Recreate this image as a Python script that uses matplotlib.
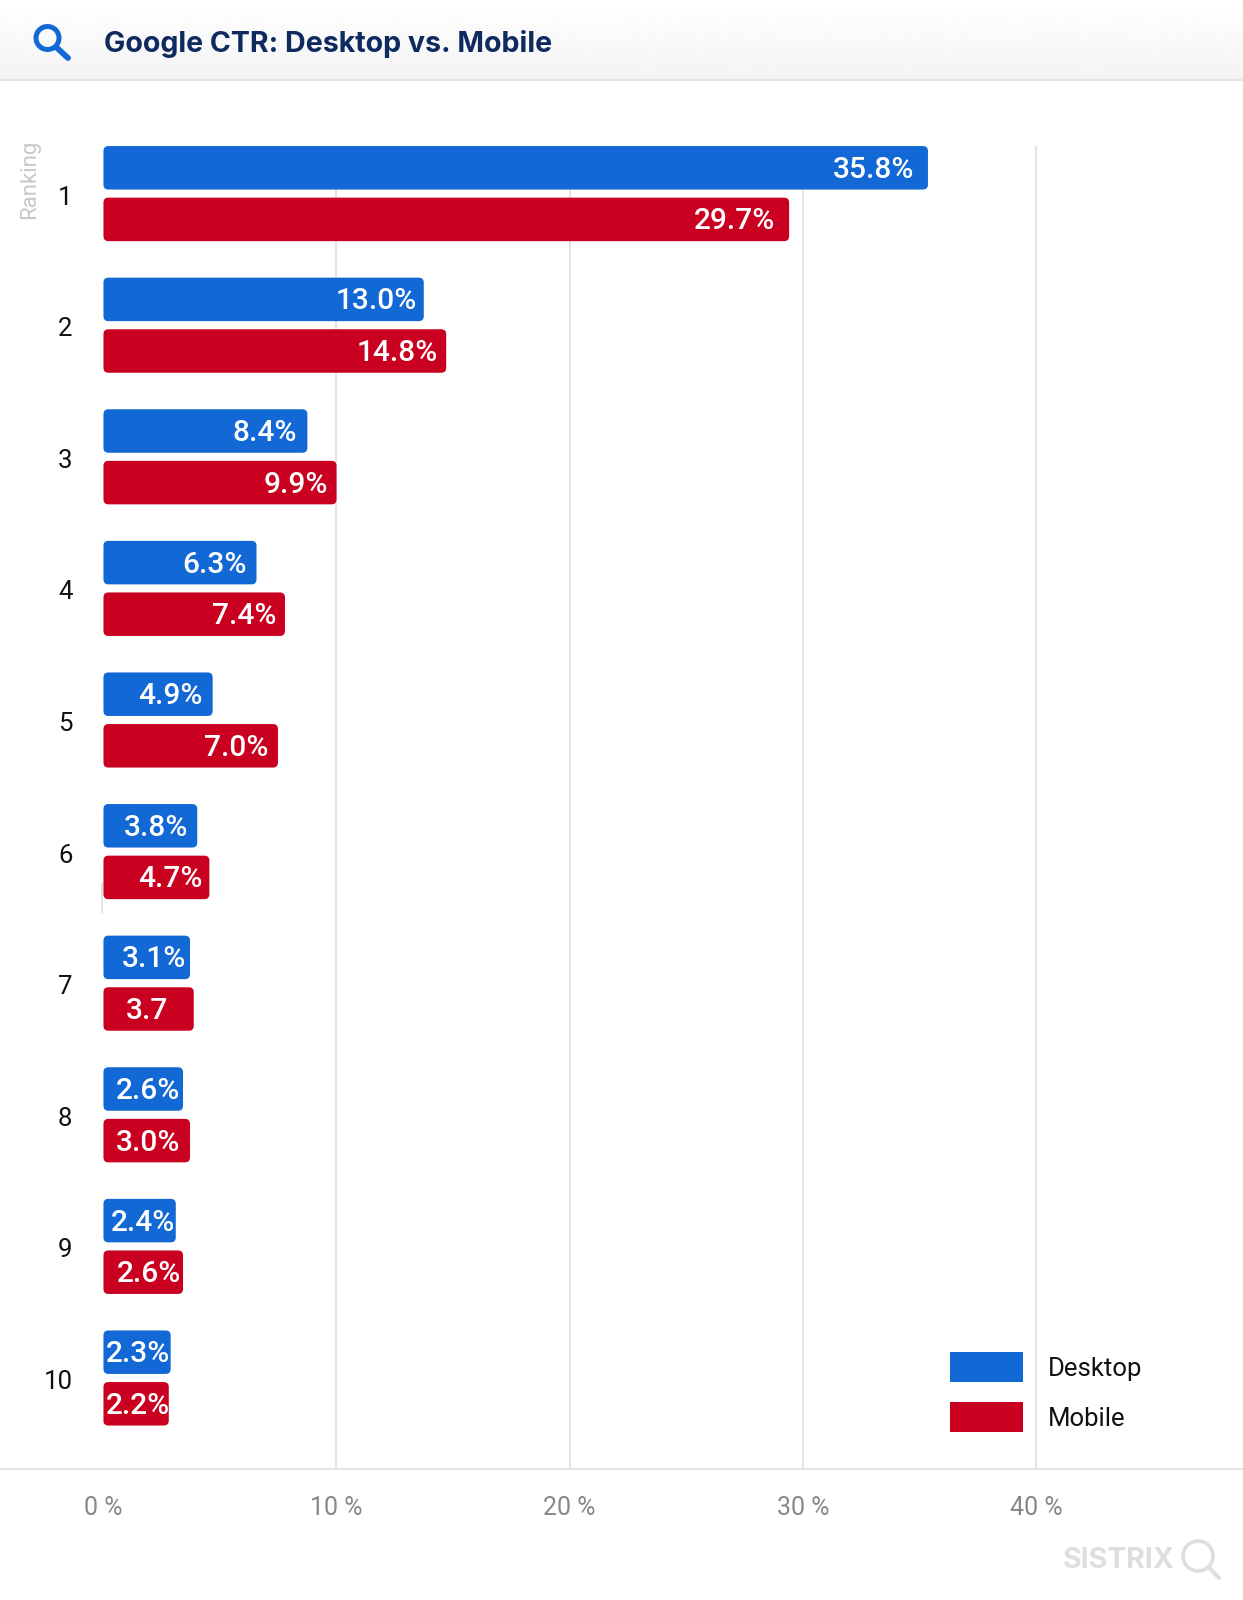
import numpy as np
import matplotlib
matplotlib.use("Agg")
import matplotlib.pyplot as plt
from matplotlib.patches import FancyBboxPatch, Circle, Patch
from matplotlib.lines import Line2D
from matplotlib.transforms import ScaledTranslation

# ---- data -------------------------------------------------------------
ranks = [1, 2, 3, 4, 5, 6, 7, 8, 9, 10]
# bar lengths (the drawn boxes)
desktop_bars = [35.36, 13.75, 8.76, 6.58, 4.70, 4.04, 3.73, 3.43, 3.12, 2.90]
mobile_bars = [29.41, 14.71, 10.01, 7.80, 7.50, 4.56, 3.89, 3.73, 3.43, 2.82]
# labels printed on the bars
desktop_labels = ["35.8%", "13.0%", "8.4%", "6.3%", "4.9%", "3.8%", "3.1%", "2.6%", "2.4%", "2.3%"]
mobile_labels = ["29.7%", "14.8%", "9.9%", "7.4%", "7.0%", "4.7%", "3.7", "3.0%", "2.6%", "2.2%"]
x_ticks = [0, 10, 20, 30, 40]
x_tick_labels = ["0 %", "10 %", "20 %", "30 %", "40 %"]
series_names = ["Desktop", "Mobile"]
title = "Google CTR: Desktop vs. Mobile"

# ---- style ------------------------------------------------------------
BLUE = "#1268d4"
RED = "#c90020"
GRID = "#e3e3e3"
W, H = 1243, 1600
desktop_insets = [14, 7, 10, 10, 10, 9, 4, 3, 1, 1]
mobile_insets = [14, 8, 9, 9, 10, 7, 26, 10, 2, -1]
plt.rcParams["font.family"] = ["Roboto", "DejaVu Sans"]

fig = plt.figure(figsize=(W / 100, H / 100), dpi=100, facecolor="white")

# chrome layer in pixel coordinates
bg = fig.add_axes([0, 0, 1, 1], zorder=0)
bg.set_xlim(0, W); bg.set_ylim(H, 0); bg.axis("off")
grad = np.linspace(1.0, 0.955, 64).reshape(-1, 1)
bg.imshow(grad, extent=(0, W, 79, 0), cmap="gray", vmin=0, vmax=1, aspect="auto", zorder=1)
bg.set_xlim(0, W); bg.set_ylim(H, 0)
bg.add_line(Line2D([0, W], [80, 80], color="#e4e4e4", lw=1.6, zorder=2))
bg.add_line(Line2D([0, W], [1468.5, 1468.5], color=GRID, lw=1.4, zorder=2))
# header magnifier
bg.add_patch(Circle((47.5, 38), 11.5, fill=False, ec=BLUE, lw=3.6, zorder=3))
bg.add_line(Line2D([56, 68], [47, 58], color=BLUE, lw=4.2, solid_capstyle="round", zorder=3))
bg.text(104, 44, title, fontsize=20.6, fontweight="bold", family=["Inter", "DejaVu Sans"],
        color="#0e2a5e", va="center", ha="left", zorder=3)
# watermark
bg.text(1063, 1560, "SISTRIX", fontsize=20.5, fontweight="bold", family=["Inter", "DejaVu Sans"],
        color="#dedede", va="center", ha="left", zorder=3)
bg.add_patch(Circle((1198, 1556), 15, fill=False, ec="#dedede", lw=2.6, zorder=3))
bg.add_line(Line2D([1208.5, 1219], [1567, 1578], color="#dedede", lw=3.0, solid_capstyle="round", zorder=3))

# chart
left, top, bottom = 103.0, 146.0, 1468.5
ax = fig.add_axes([left / W, 1 - bottom / H, (W - left) / W, (bottom - top) / H], zorder=1)
ax.patch.set_alpha(0)
px_per_x = 23.33
px_per_row = 131.6
ax.set_xlim(0, (W - left) / px_per_x)
ax.set_ylim(1 + (bottom - 193.6) / px_per_row, 1 + (top - 193.6) / px_per_row)
for s in ax.spines.values():
    s.set_visible(False)
ax.set_axisbelow(True)
ax.set_xticks(x_ticks)
ax.set_xticklabels(x_tick_labels, fontsize=18, color="#888888")
ax.set_yticks(ranks)
ax.set_yticklabels([str(r) for r in ranks], fontsize=18.5, color="#111111")
ax.tick_params(axis="both", length=0)
ax.tick_params(axis="x", pad=20)
ax.tick_params(axis="y", pad=22)
shift = ScaledTranslation(0, -1.5 / 100, fig.dpi_scale_trans)
for lab in ax.get_yticklabels():
    lab.set_transform(lab.get_transform() + shift)
for v in x_ticks[1:]:
    ax.axvline(v, color=GRID, lw=1.4, zorder=0)
# the small stub beside rank 6
ax.vlines(-0.04, 6.24, 6.47, color=GRID, lw=1.4, clip_on=False, zorder=0)

bar_h = 43.5 / px_per_row
off = 25.8 / px_per_row
rnd = 5 / px_per_x
aspect = px_per_x / px_per_row


def draw(values, labels, insets, dy, color):
    for r, v, lab, inset in zip(ranks, values, labels, insets):
        ax.add_patch(FancyBboxPatch((0.02, r + dy - bar_h / 2), v - 0.02, bar_h,
                                    boxstyle=f"round,pad=0,rounding_size={rnd}",
                                    mutation_aspect=aspect, fc=color, ec="none",
                                    clip_on=False, zorder=3))
        ax.annotate(lab, (v, r + dy), xytext=(-inset, 1), textcoords="offset pixels",
                    ha="right", va="center_baseline", color="white", fontsize=21.5,
                    fontweight="medium", zorder=4)


draw(desktop_bars, desktop_labels, desktop_insets, -off, BLUE)
draw(mobile_bars, mobile_labels, mobile_insets, off, RED)

# rotated axis title
bg.text(29.5, 179.5, "Ranking", rotation=90, fontsize=16, color="#c8c8c8",
        ha="center", va="center", zorder=3)

handles = [Patch(fc=BLUE, ec="none", label=series_names[0]),
           Patch(fc=RED, ec="none", label=series_names[1])]
fs = 18.5
em = fs * 100 / 72
leg = ax.legend(handles=handles, loc="upper left", frameon=False, fontsize=fs,
                bbox_to_anchor=(950 / W, 1 - 1352 / H), bbox_transform=fig.transFigure,
                borderaxespad=0, borderpad=0, handlelength=73 / em, handleheight=1.42,
                handletextpad=25 / em, labelspacing=0.78)
for t in leg.get_texts():
    t.set_color("#111111")

fig.savefig("out.png", dpi=100, facecolor="white")
